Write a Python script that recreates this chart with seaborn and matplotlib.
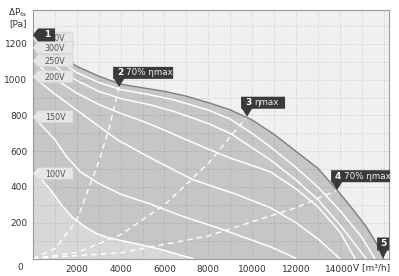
import matplotlib
matplotlib.use("Agg")
import matplotlib.pyplot as plt
import seaborn as sns
from matplotlib.patches import Polygon
from matplotlib.transforms import IdentityTransform

# ---------------- data ----------------
flow_max = [0, 1000, 2000, 3000, 4000, 5000, 6000, 7000, 8000, 9000, 10000, 11000, 12000, 13000, 13900, 14600, 15200, 15700, 16000]
p_max = [1245, 1150, 1075, 1020, 975, 955, 935, 908, 872, 832, 775, 695, 600, 505, 380, 275, 180, 80, 0]

flow_c1 = [0, 1000, 2000, 3000, 4000, 5340, 6500, 8000, 9000, 10000, 10820, 12000, 13000, 14000, 15000, 15600]
p_c1 = [1232, 1120, 1040, 985, 945, 916, 885, 830, 780, 700, 626, 510, 400, 270, 120, 0]
flow_300 = [0, 1000, 2000, 3000, 4000, 5340, 6500, 8000, 9000, 10000, 10820, 12000, 13000, 14000, 15200]
p_300 = [1178, 1075, 995, 935, 895, 860, 820, 755, 700, 620, 553, 440, 330, 190, 0]
flow_250 = [0, 1000, 2000, 3000, 4000, 5000, 6000, 6850, 8000, 9000, 10000, 10820, 12000, 13000, 14000, 14700]
p_250 = [1106, 1005, 925, 862, 812, 768, 718, 672, 612, 562, 520, 486, 390, 290, 150, 0]
flow_200 = [0, 1000, 2000, 3000, 3840, 5340, 7300, 9300, 10820, 12000, 13000, 14000]
p_200 = [1017, 920, 830, 740, 665, 564, 441, 358, 285, 200, 110, 0]
flow_150 = [0, 500, 1000, 1500, 2150, 3000, 4000, 5340, 6850, 8400, 9600, 10800, 11500, 12000]
p_150 = [793, 730, 665, 575, 486, 420, 360, 305, 235, 173, 120, 67, 30, 0]
flow_100 = [0, 400, 800, 1300, 1800, 2400, 2900, 3400, 3800, 4500, 5300, 6000, 6700, 7300]
p_100 = [475, 440, 385, 300, 230, 175, 140, 118, 106, 88, 67, 45, 20, 0]

volt_labels = ["350V", "300V", "250V", "200V", "150V", "100V"]
volt_start = [1232, 1178, 1106, 1017, 793, 475]

eff2_q = [0, 1000, 2000, 3000, 3500, 3930]
eff2_p = [0, 55, 215, 540, 740, 960]
eff3_q = [0, 2000, 4000, 6000, 8000, 9770]
eff3_p = [0, 33, 133, 300, 532, 793]
eff4_q = [0, 4000, 8000, 12000, 13880]
eff4_p = [0, 32, 126, 284, 382]

pt_num = ["1", "2", "3", "4", "5"]
pt_text = ["", "70% ηmax", "ηmax", "70% ηmax", ""]
pt_q = [0, 3930, 9770, 13880, 15980]
pt_p = [1245, 960, 793, 382, 0]

x_ticks = [2000, 4000, 6000, 8000, 10000, 12000, 14000]
y_ticks = [200, 400, 600, 800, 1000, 1200]

# ---------------- figure ----------------
sns.set_theme(style="white")
plt.rcParams['font.family'] = ['DejaVu Sans']
W, H = 399, 276
fig = plt.figure(figsize=(W / 100, H / 100), dpi=100)
fig.patch.set_facecolor("white")
ax = fig.add_axes([33 / W, 1 - 258.5 / H, (389 - 33) / W, (258.5 - 10) / H])
ax.set_facecolor("#f0f0f0")
ax.set_xlim(0, 16250)
ax.set_ylim(0, 1390)

# grid
for gx in range(1000, 16250, 1000):
    ax.axvline(gx, color="black", alpha=0.13, lw=0.6, ls=(0, (2, 2)), zorder=1)
for gy in range(100, 1390, 100):
    ax.axhline(gy, color="black", alpha=0.13, lw=0.6, ls=(0, (2, 2)), zorder=1)

# fills
ax.fill_between(flow_max, p_max, 0, color="#c6c6c6", lw=0, zorder=0.5)
ax.fill_between(flow_100, p_100, 0, color="#d8d8d8", lw=0, zorder=0.6)

# curves
for fq, fp in [(flow_c1, p_c1), (flow_300, p_300), (flow_250, p_250),
               (flow_200, p_200), (flow_150, p_150), (flow_100, p_100)]:
    sns.lineplot(x=fq, y=fp, ax=ax, color="white", lw=1.1, sort=False, zorder=2)
for fq, fp in [(eff2_q, eff2_p), (eff3_q, eff3_p), (eff4_q, eff4_p)]:
    sns.lineplot(x=fq, y=fp, ax=ax, color="white", lw=1.0, sort=False,
                 zorder=2).lines[-1].set_linestyle((0, (4, 3)))
sns.lineplot(x=flow_max, y=p_max, ax=ax, color="#7d7d7d", lw=1.0, sort=False, zorder=3)

# axes styling
for s in ax.spines.values():
    s.set_color("#9a9a9a")
    s.set_linewidth(0.8)
ax.set_xticks(x_ticks)
ax.set_yticks(y_ticks)
ax.set_xticklabels([str(v) for v in x_ticks])
ax.set_yticklabels([str(v) for v in y_ticks])
ax.tick_params(axis="both", length=0, labelsize=6.5, colors="#333333")
ax.tick_params(axis="x", pad=5)
ax.tick_params(axis="y", pad=4)
ax.set_xlabel("")
ax.set_ylabel("")

ident = IdentityTransform()

def P(xr, yr):
    return (xr, H - yr)

fig.text(*P(20, 267), "0", transform=ident, ha="center", va="center", fontsize=6.5, color="#333333")
fig.text(*P(18, 13), "ΔP$_\\mathregular{fa}$", transform=ident, ha="center", va="center", fontsize=6.5, color="#333333")
fig.text(*P(18, 24), "[Pa]", transform=ident, ha="center", va="center", fontsize=6.5, color="#333333")
fig.text(*P(372, 268), "V̇ [m³/h]", transform=ident, ha="center", va="center", fontsize=6.5, color="#333333")

# voltage labels (light flags pointing left to the curve start)
for lab, v in zip(volt_labels, volt_start):
    px, py = ax.transData.transform((0, v))
    poly = Polygon([(px, py), (px + 5, py + 6), (px + 40, py + 6), (px + 40, py - 6), (px + 5, py - 6)],
                   closed=True, transform=ident, facecolor="#e6e6e6", edgecolor="#d0d0d0", lw=0.5, zorder=5)
    fig.add_artist(poly)
    fig.text(px + 22, py - 0.5, lab, transform=ident, ha="center", va="center", fontsize=5.8,
             color="#555555", zorder=6)

# numbered dark flags
dark = "#3a3a3a"
widths = [0, 60, 44, 59, 12]
for num, txt, q, p, w in zip(pt_num, pt_text, pt_q, pt_p, widths):
    px, py = ax.transData.transform((q, p))
    if num == "1":
        py = py + 1
        pts = [(px, py), (px + 5, py + 6.5), (px + 22, py + 6.5), (px + 22, py - 6.5), (px + 5, py - 6.5)]
        tx, ty = px + 14, py
    elif num == "5":
        pts = [(px, py), (px - 4, py + 8), (px - 6, py + 8), (px - 6, py + 21), (px + 6, py + 21), (px + 6, py + 8), (px + 4, py + 8)]
        tx, ty = px, py + 14.5
    else:
        bl = px - 6
        pts = [(px, py), (px - 5, py + 8), (bl, py + 8), (bl, py + 20), (bl + w, py + 20), (bl + w, py + 8), (px + 5, py + 8)]
        tx, ty = bl + 7, py + 14
    fig.add_artist(Polygon(pts, closed=True, transform=ident, facecolor=dark, edgecolor="none", zorder=7))
    fig.text(tx, ty, num, transform=ident, ha="center", va="center", fontsize=6.5, fontweight="bold",
             color="white", zorder=8)
    if txt:
        fig.text(tx + 6, ty, txt, transform=ident, ha="left", va="center", fontsize=6.3,
                 color="#eeeeee", zorder=8)

fig.savefig("out.png", dpi=100)
